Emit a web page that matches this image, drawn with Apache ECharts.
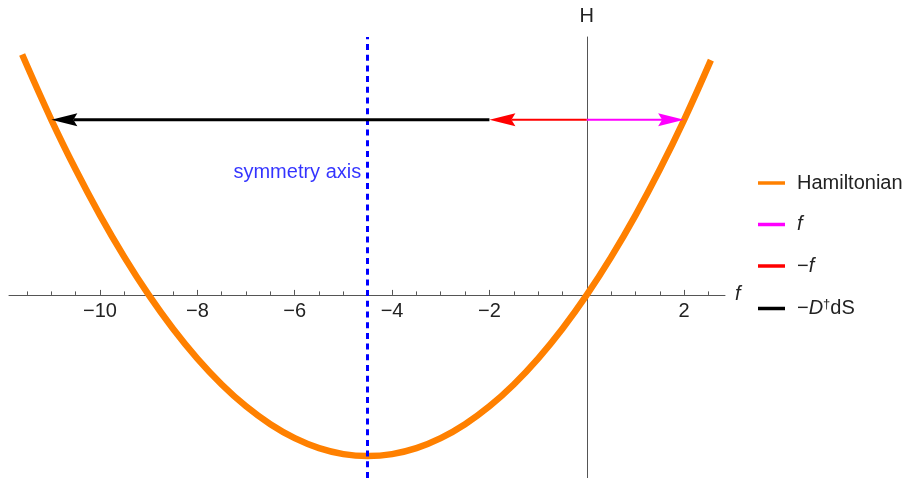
<!DOCTYPE html>
<html>
<head>
<meta charset="utf-8">
<script src="https://cdn.jsdelivr.net/npm/echarts@6/dist/echarts.min.js"></script>
<style>
  html, body { margin: 0; padding: 0; background: #fff; }
  #chart { width: 904px; height: 478px; }
</style>
</head>
<body>
<div id="chart"></div>
<script>
// Hamiltonian curve
const hamF = [-11.6, -11, -10.5, -10, -9.5, -9, -8.5, -8, -7.5, -7, -6.5, -6, -5.5, -5, -4.5,
    -4, -3.5, -3, -2.5, -2, -1.5, -1, -0.5, 0, 0.5, 1, 1.5, 2, 2.55];
const hamH = [30.2, 22, 15.75, 10, 4.75, 0, -4.25, -8, -11.25, -14, -16.25, -18, -19.25, -20, -20.25,
    -20, -19.25, -18, -16.25, -14, -11.25, -8, -4.25, 0, 4.75, 10, 15.75, 22, 29.5];

// arrows: start f, end f, height H
const arrowNames = ['f', '\u2212f', '\u2212D\u2020dS'];
const arrowStart = [0, 0, -2];
const arrowEnd = [2, -2, -11];
const arrowH = [22, 22, 22];
const arrowColors = ['#ff00ff', '#ff0000', '#000000'];
const arrowWidths = [2, 2, 3];

// symmetry axis
const symAxisF = -4.5;
const symLabelH = 15.4;

// axes
const xRange = [-11.87, 2.84];
const yRange = [-23, 32.4];
const majorTicks = [-10, -8, -6, -4, -2, 2];
const minorTicks = [-11.5, -11, -10.5, -9.5, -9, -8.5, -7.5, -7, -6.5, -5.5, -5, -4.5,
    -3.5, -3, -2.5, -1.5, -1, -0.5, 0.5, 1, 1.5, 2.5];

const font = "'Liberation Sans', Arial, sans-serif";
const axisColor = '#555';
const textColor = '#222';

// plot box
const plotLeft = 9, plotRight = 179, plotTop = 37, plotHeight = 441;
// the f axis sits at H = 0 of the main grid; a second grid ends there to carry its ticks and labels
const zeroY = plotTop + plotHeight * yRange[1] / (yRange[1] - yRange[0]);
const axisGridBottom = 478 - zeroY;

const chart = echarts.init(document.getElementById('chart'));

const arrowSeries = arrowNames.map((name, i) => ({
    name: name,
    type: 'custom',
    z: 5,
    itemStyle: { color: arrowColors[i] },
    encode: { x: [0, 1], y: 2 },
    data: [[arrowStart[i], arrowEnd[i], arrowH[i]]],
    renderItem: (params, api) => {
        const p0 = api.coord([api.value(0), api.value(2)]);
        const p1 = api.coord([api.value(1), api.value(2)]);
        const color = api.visual('color');
        const dir = Math.sign(p1[0] - p0[0]);
        const len = 26, half = 6.5, notch = 4;
        const back = p1[0] - dir * len;
        return {
            type: 'group',
            children: [
                {
                    type: 'line',
                    shape: { x1: p0[0], y1: p0[1], x2: back + dir * notch, y2: p1[1] },
                    style: { stroke: color, lineWidth: arrowWidths[i] }
                },
                {
                    type: 'polygon',
                    shape: {
                        points: [
                            [p1[0], p1[1]],
                            [back, p1[1] - half],
                            [back + dir * notch, p1[1]],
                            [back, p1[1] + half]
                        ]
                    },
                    style: { fill: color }
                }
            ]
        };
    }
}));

const option = {
    animation: false,
    textStyle: { fontFamily: font },
    grid: [
        { left: plotLeft, right: plotRight, top: plotTop, bottom: 0, outerBoundsMode: 'none' },
        { left: plotLeft, right: plotRight, top: plotTop, bottom: axisGridBottom, outerBoundsMode: 'none' }
    ],
    legend: {
        orient: 'vertical',
        left: 758,
        top: 173,
        padding: 0,
        itemGap: 21.5,
        itemWidth: 27,
        itemHeight: 3.5,
        icon: 'rect',
        data: ['Hamiltonian'].concat(arrowNames),
        formatter: name => {
            if (name === 'f') return '{i|f}';
            if (name === '\u2212f') return '\u2212{i|f}';
            if (name === '\u2212D\u2020dS') return '\u2212{i|D}{s|\u2020}dS';
            return name;
        },
        textStyle: {
            fontSize: 20,
            lineHeight: 20,
            color: textColor,
            padding: [0, 0, 0, 7],
            rich: {
                i: { fontSize: 20, lineHeight: 20, fontStyle: 'italic', color: textColor },
                s: { fontSize: 13, lineHeight: 20, color: textColor, padding: [0, 0, 9, 0] }
            }
        }
    },
    xAxis: [
        {
            // main scale for the marks
            type: 'value',
            gridIndex: 0,
            min: xRange[0],
            max: xRange[1],
            axisLine: { show: false, onZero: true },
            axisTick: { show: false },
            axisLabel: { show: false },
            splitLine: { show: false }
        },
        {
            type: 'value',
            gridIndex: 1,
            min: xRange[0],
            max: xRange[1],
            position: 'bottom',
            name: 'f',
            nameLocation: 'end',
            nameGap: 10,
            nameTextStyle: { fontSize: 20, fontStyle: 'italic', color: textColor },
            axisLine: { show: true, onZero: false, lineStyle: { color: axisColor, width: 1 } },
            axisTick: { show: true, inside: true, length: 5, customValues: majorTicks, lineStyle: { color: axisColor } },
            axisLabel: {
                show: true,
                customValues: majorTicks,
                margin: 7,
                fontSize: 20,
                color: textColor,
                formatter: v => (v < 0 ? '\u2212' + Math.abs(v) : String(v))
            },
            splitLine: { show: false }
        },
        {
            type: 'value',
            gridIndex: 1,
            min: xRange[0],
            max: xRange[1],
            position: 'bottom',
            axisLine: { show: false, onZero: false },
            axisTick: { show: true, inside: true, length: 3.5, customValues: minorTicks, lineStyle: { color: axisColor } },
            axisLabel: { show: false },
            splitLine: { show: false }
        }
    ],
    yAxis: [
        {
            type: 'value',
            gridIndex: 0,
            min: yRange[0],
            max: yRange[1],
            name: 'H',
            nameLocation: 'end',
            nameGap: 11,
            nameTextStyle: { fontSize: 20, color: textColor },
            axisLine: { show: true, onZero: true, onZeroAxisIndex: 0, lineStyle: { color: axisColor, width: 1 } },
            axisTick: { show: false },
            axisLabel: { show: false },
            splitLine: { show: false }
        },
        {
            type: 'value',
            gridIndex: 1,
            min: 0,
            max: yRange[1],
            show: false
        }
    ],
    series: [
        {
            name: 'Hamiltonian',
            type: 'line',
            data: hamF.map((f, i) => [f, hamH[i]]),
            symbol: 'none',
            smooth: 0.4,
            z: 3,
            itemStyle: { color: '#ff8000' },
            lineStyle: { color: '#ff8000', width: 6.5 }
        },
        ...arrowSeries,
        {
            name: 'symmetry axis',
            type: 'scatter',
            z: 6,
            data: [[symAxisF, symLabelH]],
            symbolSize: 1,
            itemStyle: { color: 'transparent' },
            label: {
                show: true,
                position: 'left',
                distance: 6,
                formatter: 'symmetry axis',
                fontSize: 20,
                color: '#0000ff'
            },
            markLine: {
                silent: true,
                symbol: ['none', 'none'],
                label: { show: false },
                lineStyle: { color: '#0000ff', width: 3, type: [6, 4.7], opacity: 1 },
                emphasis: { disabled: true },
                data: [{ xAxis: symAxisF }]
            }
        }
    ]
};

chart.setOption(option);
</script>
</body>
</html>
